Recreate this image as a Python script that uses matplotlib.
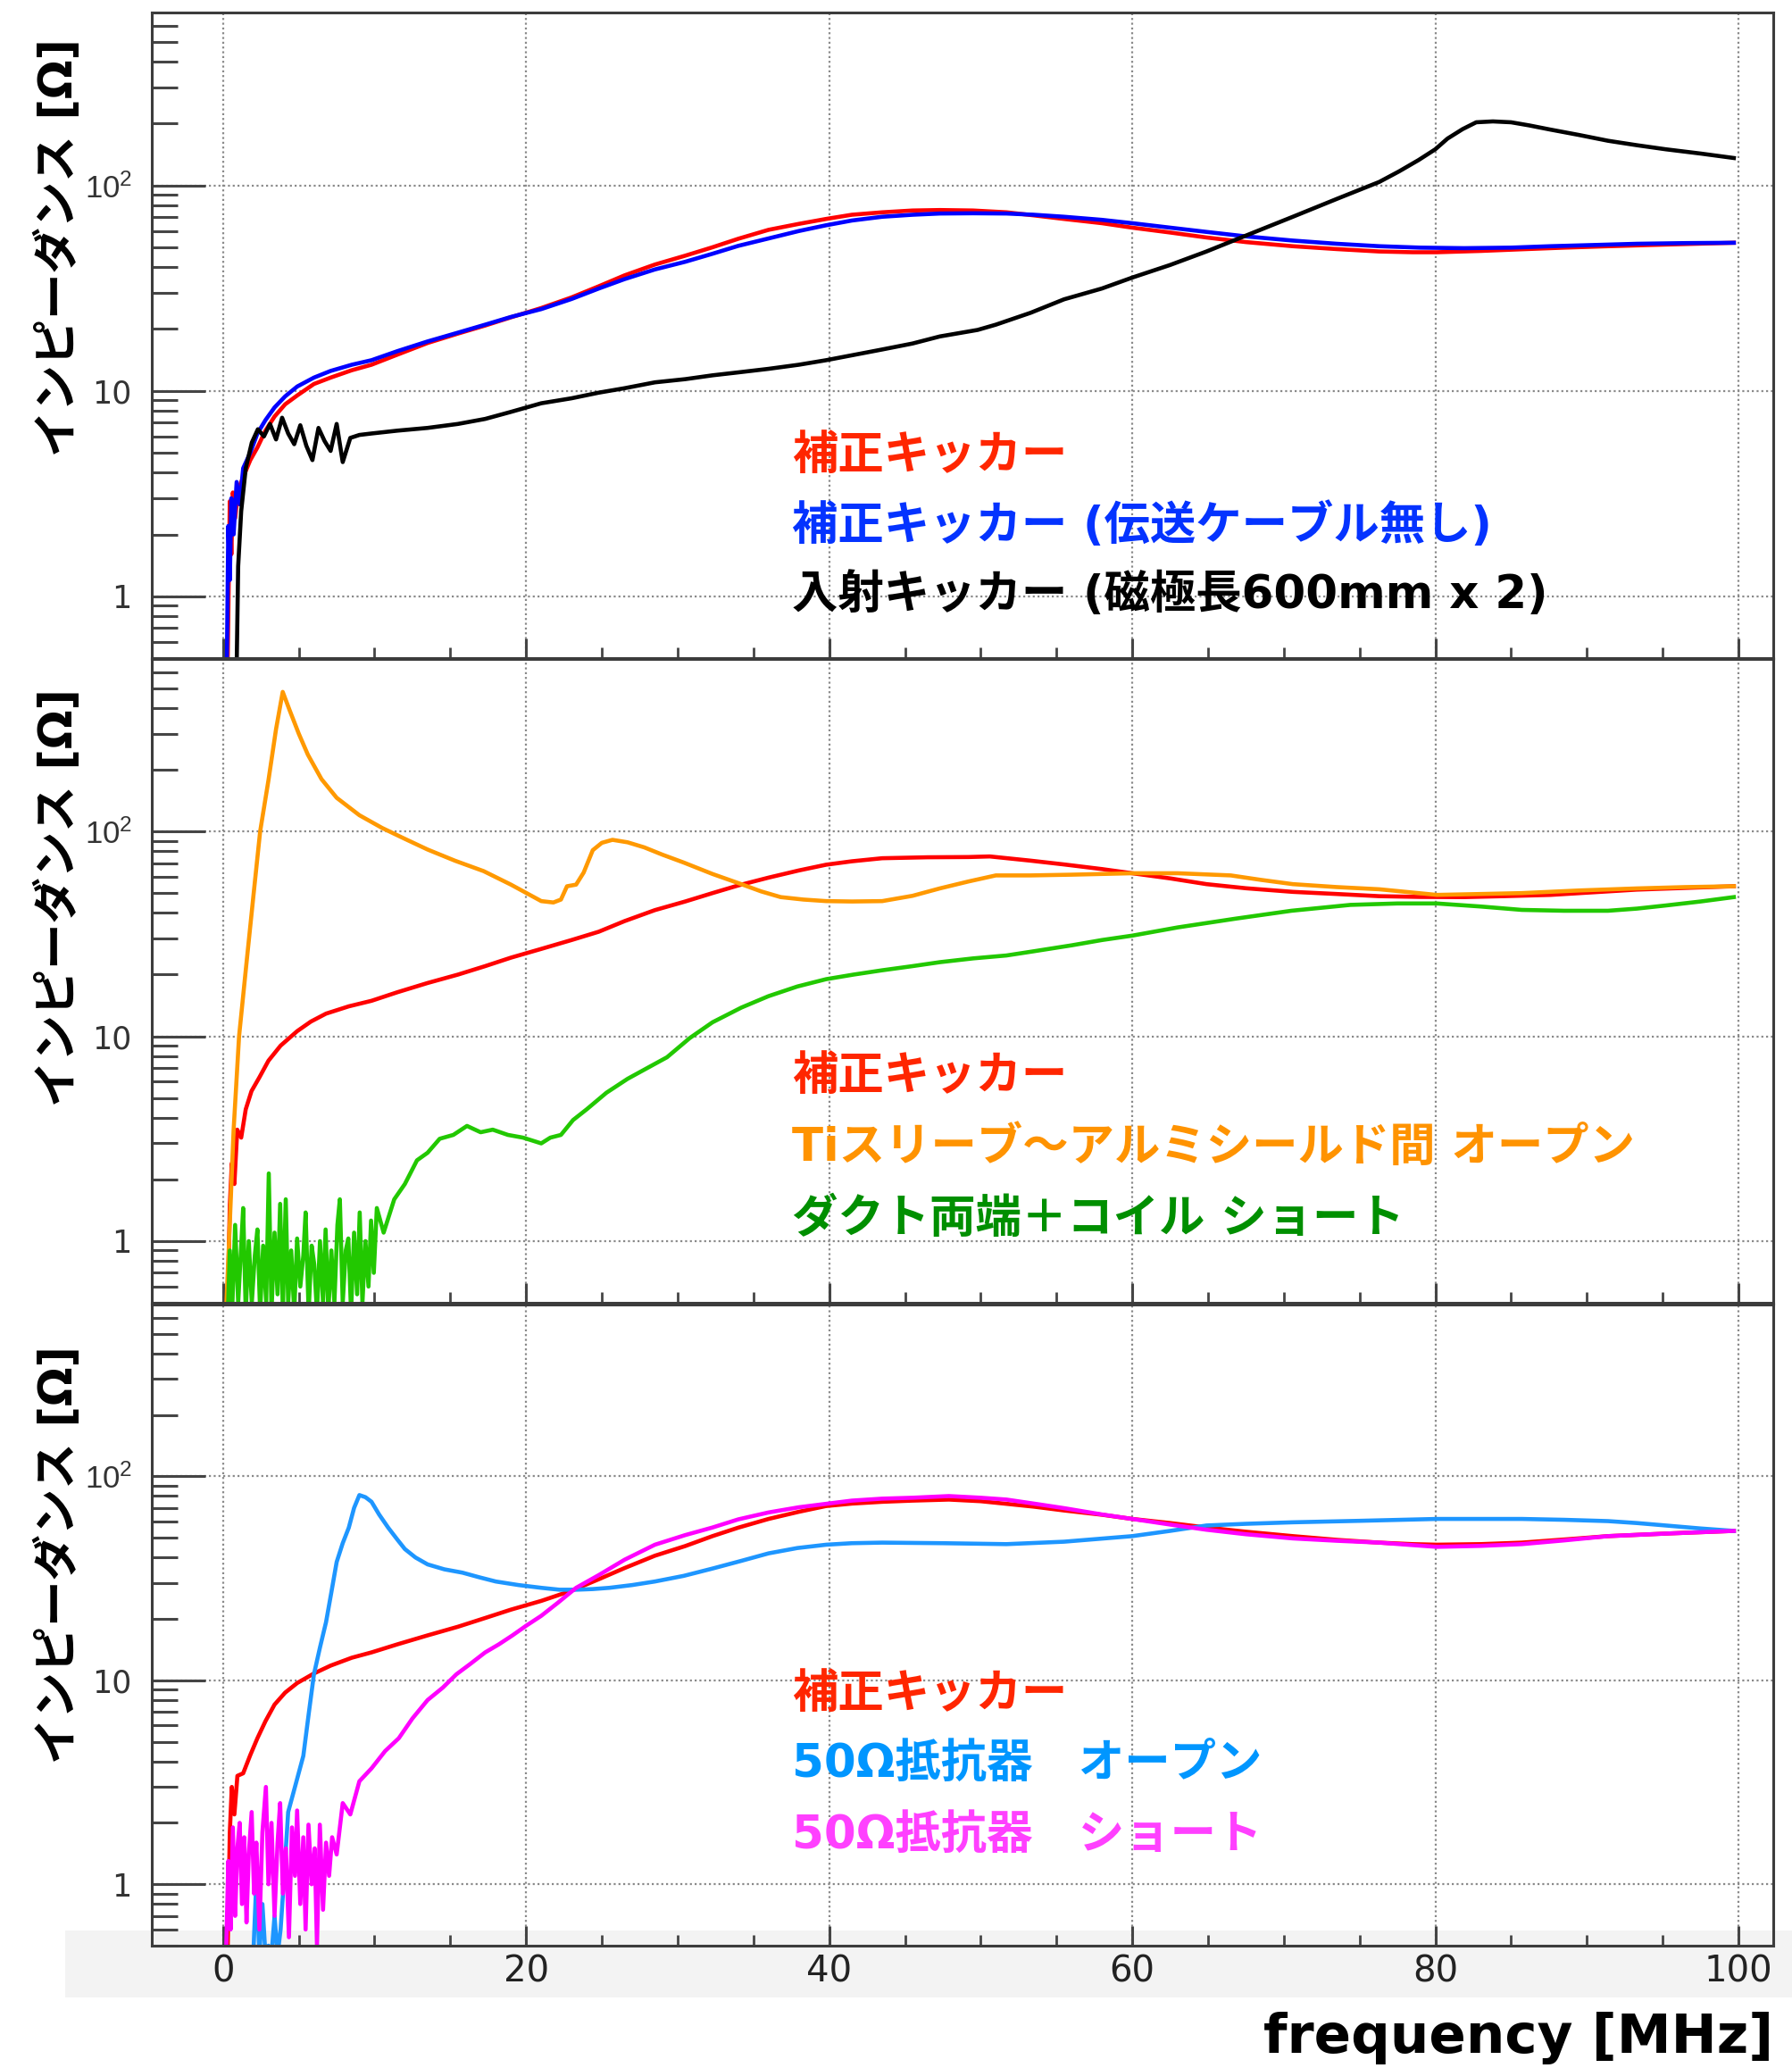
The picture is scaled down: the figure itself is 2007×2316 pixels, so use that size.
import matplotlib
matplotlib.use("Agg")
import matplotlib.pyplot as plt
from matplotlib.patches import Rectangle
from matplotlib.ticker import FixedLocator, MultipleLocator, NullFormatter

plt.rcParams['font.family'] = ['DejaVu Sans', 'Noto Sans CJK JP']
plt.rcParams['mathtext.fontset'] = 'custom'
plt.rcParams['mathtext.rm'] = 'Liberation Sans'
plt.rcParams['mathtext.it'] = 'Liberation Sans'

# ---- panel 1: kicker comparison ----
red1_f = [0.3, 0.45, 0.55, 0.65, 0.8, 1.0, 1.33, 1.8, 2.27, 2.8,
          3.4, 4.1, 4.9, 6.0, 7.1, 8.5, 9.8, 11.5, 13.5, 15.5,
          17.3, 19.0, 21.0, 23.0, 24.8, 26.5, 28.5, 30.5, 32.3, 34.0,
          36.0, 38.0, 39.8, 41.5, 43.5, 45.5, 47.3, 49.5, 51.7, 53.5,
          55.5, 58.0, 60.0, 62.5, 64.9, 67.5, 70.6, 73.5, 76.3, 78.5,
          80.1, 83.0, 85.7, 88.5, 91.4, 95.0, 99.7]
red1_z = [0.45, 2.9, 1.6, 3.2, 2.4, 3.3, 3.8, 4.6, 5.3, 6.4,
          7.5, 8.6, 9.5, 10.8, 11.6, 12.6, 13.4, 15.0, 17.1, 19.0,
          20.8, 22.8, 25.3, 28.5, 32.3, 36.5, 41.2, 45.5, 50.0, 55.0,
          60.8, 65.0, 68.7, 72.0, 74.0, 75.5, 75.9, 75.5, 74.0, 71.5,
          68.7, 65.5, 62.3, 59.0, 55.8, 53.0, 50.6, 49.0, 47.7, 47.3,
          47.3, 48.0, 48.9, 49.8, 50.6, 51.5, 52.6]

blue1_f = [0.25, 0.35, 0.45, 0.55, 0.7, 0.9, 1.1, 1.33, 1.8, 2.27,
           2.8, 3.4, 4.1, 4.9, 6.0, 7.1, 8.5, 9.8, 11.5, 13.5,
           15.5, 17.3, 19.0, 21.0, 23.0, 24.8, 26.5, 28.5, 30.5, 32.3,
           34.0, 36.0, 38.0, 39.8, 41.5, 43.5, 45.5, 47.3, 49.5, 51.7,
           53.5, 55.5, 58.0, 60.0, 62.5, 64.9, 67.5, 70.6, 73.5, 76.3,
           79.0, 81.9, 85.0, 87.6, 90.5, 93.3, 96.5, 99.7]
blue1_z = [0.45, 2.2, 1.2, 3.0, 2.0, 3.6, 2.8, 4.2, 5.0, 6.2,
           7.2, 8.3, 9.4, 10.5, 11.6, 12.5, 13.4, 14.1, 15.6, 17.4,
           19.2, 21.0, 22.9, 25.0, 28.0, 31.5, 35.0, 39.0, 42.5, 46.5,
           50.8, 55.2, 60.0, 64.0, 67.5, 70.4, 72.0, 73.0, 73.2, 73.0,
           72.0, 70.4, 68.0, 65.5, 62.3, 59.4, 56.5, 53.9, 52.0, 50.6,
           49.8, 49.5, 49.8, 50.6, 51.3, 52.0, 52.4, 52.6]

black1_f = [0.9, 1.0, 1.2, 1.5, 1.9, 2.3, 2.7, 3.1, 3.5, 3.9,
            4.3, 4.7, 5.1, 5.5, 5.9, 6.3, 6.7, 7.1, 7.5, 7.9,
            8.4, 9.0, 9.8, 11.5, 13.5, 15.5, 17.3, 19.0, 21.0, 23.0,
            24.8, 26.5, 28.5, 30.5, 32.3, 34.0, 36.0, 38.0, 39.8, 41.5,
            43.5, 45.5, 47.3, 49.8, 51.0, 53.3, 55.5, 58.0, 60.0, 62.5,
            64.9, 67.5, 70.6, 73.5, 76.3, 77.6, 78.9, 80.0, 80.8, 81.8,
            82.7, 83.8, 85.0, 86.2, 87.6, 89.5, 91.4, 93.3, 95.2, 97.5,
            99.7]
black1_z = [0.45, 1.4, 2.6, 4.2, 5.6, 6.5, 6.0, 6.9, 5.8, 7.4,
            6.2, 5.5, 6.8, 5.4, 4.6, 6.6, 5.7, 5.1, 6.9, 4.5,
            5.9, 6.1, 6.2, 6.4, 6.6, 6.9, 7.3, 7.9, 8.7, 9.2,
            9.8, 10.3, 11.0, 11.4, 11.9, 12.3, 12.8, 13.4, 14.1, 14.9,
            15.9, 17.0, 18.4, 19.8, 21.0, 24.0, 27.9, 31.5, 35.6, 41.0,
            47.7, 57.0, 70.4, 86.0, 104.0, 117.0, 133.0, 150.0, 169.0, 188.0,
            203.0, 205.0, 203.0, 196.0, 187.0, 176.0, 165.0, 157.0, 150.0, 143.0,
            136.0]

# ---- panel 2: Ti sleeve / duct short ----
red2_f = [0.3, 0.45, 0.58, 0.75, 0.94, 1.2, 1.5, 1.88, 2.4, 3.0,
          3.8, 4.9, 5.8, 6.8, 8.3, 9.8, 11.5, 13.5, 15.5, 17.3,
          19.0, 21.0, 23.0, 24.8, 26.5, 28.5, 30.5, 32.3, 34.0, 36.0,
          38.0, 39.8, 41.5, 43.5, 46.5, 49.2, 50.6, 53.3, 55.5, 58.0,
          60.0, 62.5, 64.9, 67.5, 70.6, 73.5, 76.3, 79.0, 81.9, 84.5,
          87.6, 90.5, 93.3, 96.5, 99.7]
red2_z = [0.45, 1.5, 2.4, 1.9, 3.5, 3.2, 4.4, 5.4, 6.3, 7.6,
          9.0, 10.6, 11.8, 12.9, 14.0, 14.9, 16.4, 18.2, 20.0, 22.0,
          24.2, 26.7, 29.5, 32.4, 36.5, 41.3, 45.5, 50.0, 54.5, 59.5,
          64.5, 68.8, 71.5, 74.0, 74.8, 75.0, 75.5, 72.0, 69.0, 65.5,
          62.5, 59.0, 55.3, 52.8, 50.7, 49.5, 48.3, 47.9, 47.8, 48.3,
          49.0, 50.5, 52.0, 53.0, 54.0]

orange2_f = [0.2, 0.4, 0.7, 1.06, 1.5, 2.0, 2.45, 3.0, 3.5, 3.94,
             4.4, 5.0, 5.6, 6.5, 7.5, 9.0, 10.5, 12.0, 13.5, 15.3,
             17.2, 19.0, 21.0, 21.8, 22.3, 22.7, 23.3, 23.8, 24.4, 25.0,
             25.7, 26.7, 27.8, 29.0, 30.4, 32.3, 34.2, 35.5, 36.8, 38.3,
             39.8, 41.5, 43.5, 45.5, 47.3, 49.2, 51.0, 53.3, 56.0, 60.0,
             63.0, 66.5, 68.5, 70.6, 73.5, 76.3, 80.1, 83.0, 85.7, 89.5,
             93.3, 96.5, 99.7]
orange2_z = [0.45, 1.0, 3.5, 10.0, 21.0, 48.0, 100.0, 178.0, 316.0, 480.0,
             390.0, 300.0, 237.0, 180.0, 146.0, 120.0, 104.0, 92.0, 81.6, 72.0,
             64.0, 55.0, 45.7, 45.0, 46.5, 54.0, 55.0, 63.0, 81.0, 88.0,
             91.0, 88.5, 83.6, 77.0, 70.5, 62.0, 55.3, 51.0, 47.8, 46.5,
             45.7, 45.5, 45.7, 48.5, 52.7, 57.0, 61.0, 61.0, 61.5, 62.5,
             62.5, 61.0, 58.0, 55.3, 53.5, 52.2, 49.0, 49.5, 50.0, 51.5,
             52.7, 53.5, 54.0]

green2_f = [0.3, 0.45, 0.6, 0.8, 1.0, 1.2, 1.33, 1.5, 1.7, 1.9,
            2.1, 2.27, 2.45, 2.65, 2.85, 3.02, 3.2, 3.4, 3.6, 3.77,
            3.95, 4.14, 4.3, 4.5, 4.7, 4.89, 5.1, 5.3, 5.45, 5.65,
            5.85, 6.02, 6.2, 6.4, 6.6, 6.77, 6.95, 7.15, 7.35, 7.55,
            7.71, 7.9, 8.1, 8.27, 8.45, 8.65, 8.85, 9.02, 9.2, 9.4,
            9.6, 9.77, 9.95, 10.15, 10.6, 11.3, 12.0, 12.8, 13.5, 14.3,
            15.2, 16.1, 17.0, 17.8, 18.8, 19.8, 21.0, 21.6, 22.3, 23.1,
            24.0, 25.3, 26.7, 28.0, 29.3, 30.8, 32.3, 34.2, 36.0, 37.9,
            39.8, 41.6, 43.5, 45.5, 47.3, 49.5, 51.7, 53.5, 56.0, 58.0,
            60.0, 63.0, 66.8, 70.5, 74.4, 77.5, 80.1, 83.0, 85.7, 88.5,
            91.4, 93.3, 95.2, 97.5, 99.7]
green2_z = [0.4, 0.9, 0.45, 1.2, 0.5, 0.95, 1.45, 0.45, 1.0, 0.5,
            0.85, 1.14, 0.45, 0.95, 0.5, 2.14, 0.45, 1.1, 0.55, 1.52,
            0.45, 1.6, 0.5, 0.9, 0.45, 1.03, 0.6, 0.85, 1.38, 0.45,
            0.95, 0.77, 0.45, 1.0, 0.5, 1.14, 0.45, 0.9, 0.5, 1.2,
            1.6, 0.5, 0.9, 1.03, 0.45, 1.1, 0.55, 1.38, 0.5, 1.0,
            0.6, 1.26, 0.7, 1.45, 1.1, 1.6, 1.9, 2.48, 2.7, 3.16,
            3.3, 3.65, 3.4, 3.5, 3.3, 3.2, 3.0, 3.2, 3.3, 3.9,
            4.4, 5.3, 6.2, 7.0, 7.9, 9.8, 11.7, 13.8, 15.7, 17.5,
            19.0, 20.0, 21.0, 22.0, 23.0, 24.0, 24.8, 26.0, 27.8, 29.5,
            31.0, 34.0, 37.5, 41.0, 43.8, 44.5, 44.5, 43.0, 41.4, 41.0,
            41.0, 42.0, 43.5, 45.5, 47.8]

# ---- panel 3: 50 ohm resistor open / short ----
red3_f = [0.3, 0.45, 0.58, 0.75, 0.95, 1.33, 1.8, 2.27, 2.8, 3.4,
          4.1, 4.9, 6.0, 7.1, 8.5, 9.8, 11.5, 13.5, 15.5, 17.3,
          19.0, 21.0, 23.0, 24.8, 26.5, 28.5, 30.5, 32.3, 34.0, 36.0,
          38.0, 39.8, 41.5, 43.5, 45.5, 47.9, 50.0, 51.7, 53.5, 55.5,
          58.0, 60.0, 62.5, 64.9, 67.5, 70.6, 73.5, 76.3, 78.5, 80.1,
          83.0, 85.7, 88.5, 91.4, 95.5, 99.7]
red3_z = [0.45, 1.8, 3.0, 2.2, 3.4, 3.5, 4.3, 5.2, 6.3, 7.6,
          8.7, 9.7, 10.8, 11.8, 12.9, 13.7, 15.0, 16.6, 18.3, 20.2,
          22.2, 24.5, 27.5, 31.3, 35.5, 40.8, 45.5, 50.9, 56.0, 61.8,
          67.0, 71.5, 73.5, 75.0, 76.0, 76.9, 75.5, 73.3, 71.0, 68.0,
          64.8, 61.8, 59.0, 56.1, 53.5, 50.9, 48.8, 47.3, 46.5, 46.2,
          46.5, 47.3, 49.0, 50.9, 52.5, 54.0]

open3_f = [2.0, 2.2, 2.4, 2.6, 2.8, 3.0, 3.2, 3.4, 3.6, 3.8,
           4.0, 4.3, 4.8, 5.3, 5.65, 6.0, 6.4, 6.8, 7.15, 7.5,
           7.9, 8.3, 8.65, 9.0, 9.4, 9.8, 10.3, 10.9, 11.5, 12.0,
           12.7, 13.5, 14.6, 15.8, 16.9, 18.0, 19.5, 21.0, 22.2, 23.3,
           24.4, 25.5, 27.0, 28.5, 30.4, 32.3, 34.2, 36.0, 37.9, 39.8,
           41.5, 43.5, 47.5, 51.7, 55.5, 60.0, 62.5, 64.9, 67.5, 70.6,
           75.0, 80.1, 85.7, 88.5, 91.4, 93.3, 95.2, 97.5, 99.7]
open3_z = [0.45, 1.05, 0.45, 0.8, 0.45, 0.5, 0.45, 0.7, 0.45, 0.6,
           1.0, 2.26, 3.1, 4.26, 6.8, 10.7, 14.5, 19.3, 27.0, 38.0,
           47.0, 56.0, 70.0, 80.9, 79.0, 75.0, 65.0, 56.0, 49.0, 44.0,
           40.0, 37.0, 35.0, 33.7, 32.0, 30.5, 29.3, 28.4, 27.8, 27.8,
           28.0, 28.4, 29.3, 30.5, 32.5, 35.3, 38.5, 41.9, 44.5, 46.2,
           47.0, 47.3, 47.0, 46.5, 47.8, 50.9, 54.0, 57.4, 58.5, 59.5,
           60.5, 61.8, 61.8, 61.2, 60.3, 59.0, 57.4, 55.5, 54.0]

short3_f = [0.2, 0.35, 0.5, 0.65, 0.8, 0.95, 1.1, 1.25, 1.4, 1.55,
            1.7, 1.89, 2.05, 2.2, 2.4, 2.6, 2.83, 3.0, 3.2, 3.4,
            3.6, 3.77, 3.95, 4.15, 4.35, 4.55, 4.75, 4.89, 5.1, 5.3,
            5.45, 5.64, 5.85, 6.05, 6.2, 6.39, 6.6, 6.8, 7.0, 7.2,
            7.5, 7.9, 8.4, 9.0, 9.8, 10.7, 11.6, 12.5, 13.5, 14.5,
            15.4, 16.3, 17.3, 18.2, 19.1, 20.0, 21.0, 22.1, 23.3, 24.8,
            26.5, 28.5, 30.5, 32.3, 34.0, 36.0, 38.0, 39.8, 41.5, 43.5,
            45.5, 47.9, 50.0, 51.7, 53.5, 55.5, 58.0, 60.0, 62.5, 64.9,
            67.5, 70.6, 73.5, 76.3, 78.5, 80.1, 83.0, 85.7, 88.5, 91.4,
            95.5, 99.7]
short3_z = [0.45, 1.3, 0.6, 1.9, 0.7, 1.5, 2.0, 0.8, 1.7, 0.65,
            1.4, 2.26, 0.9, 1.6, 0.6, 1.8, 3.0, 1.0, 2.0, 0.7,
            1.6, 2.5, 0.9, 1.5, 0.55, 1.9, 1.1, 2.3, 0.8, 1.7,
            0.6, 1.96, 1.0, 1.5, 0.5, 1.96, 0.75, 1.6, 1.1, 1.7,
            1.4, 2.5, 2.2, 3.2, 3.7, 4.5, 5.2, 6.5, 8.0, 9.2,
            10.7, 12.0, 13.7, 15.0, 16.6, 18.5, 20.7, 24.0, 28.4, 32.8,
            39.0, 46.2, 51.5, 56.1, 61.5, 66.5, 70.5, 73.3, 76.0, 77.7,
            78.5, 80.0, 78.5, 76.9, 73.5, 69.8, 65.0, 61.8, 58.0, 54.7,
            52.0, 49.6, 48.3, 47.3, 46.0, 45.1, 45.6, 46.5, 48.5, 50.9,
            52.5, 54.0]

panels = [
    dict(curves=[(red1_f, red1_z, '#ff0000'), (blue1_f, blue1_z, '#0000ff'),
                 (black1_f, black1_z, '#000000')],
         labels=['補正キッカー', '補正キッカー (伝送ケーブル無し)', '入射キッカー (磁極長600mm x 2)'],
         colors=['#ff2600', '#0433ff', '#000000'],
         rows=[511, 589, 667], top=14, bottom=737, ytitle=43),
    dict(curves=[(red2_f, red2_z, '#ff0000'), (orange2_f, orange2_z, '#ff9900'),
                 (green2_f, green2_z, '#22c800')],
         labels=['補正キッカー', 'Tiスリーブ〜アルミシールド間 オープン', 'ダクト両端＋コイル ショート'],
         colors=['#ff2600', '#ff9300', '#008f00'],
         rows=[1206, 1286, 1366], top=738, bottom=1459, ytitle=771),
    dict(curves=[(red3_f, red3_z, '#ff0000'), (open3_f, open3_z, '#1e96ff'),
                 (short3_f, short3_z, '#ff00ff')],
         labels=['補正キッカー', '50Ω抵抗器　オープン', '50Ω抵抗器　ショート'],
         colors=['#ff2600', '#0096ff', '#ff40ff'],
         rows=[1898, 1976, 2056], top=1461, bottom=2179, ytitle=1507),
]

W, H = 2007, 2316
AX_L, AX_R = 170, 1986
fig = plt.figure(figsize=(W / 100, H / 100), dpi=100)

# light band behind the bottom tick labels
fig.patches.append(Rectangle((73 / W, 1 - 2237 / H), (W - 73) / W, (2237 - 2162) / H,
                             transform=fig.transFigure, facecolor='#f3f3f3',
                             edgecolor='none', zorder=-1))

major_y = [1, 10, 100]
minor_y = [m * 10 ** e for e in (-1, 0, 1, 2) for m in range(2, 10)]
frame = '#3c3c3c'

for i, p in enumerate(panels):
    ax = fig.add_axes([AX_L / W, 1 - p['bottom'] / H, (AX_R - AX_L) / W,
                       (p['bottom'] - p['top']) / H])
    ax.set_facecolor('none')
    for f, z, c in p['curves']:
        ax.plot(f, z, color=c, lw=3.3)
    ax.set_yscale('log')
    ax.set_xlim(-4.7, 102.3)
    ax.set_ylim(0.5, 695)
    ax.yaxis.set_major_locator(FixedLocator(major_y))
    ax.yaxis.set_minor_locator(FixedLocator(minor_y))
    ax.yaxis.set_minor_formatter(NullFormatter())
    ax.set_yticklabels(['1', '10', r'$10^{2}$'])
    ax.xaxis.set_major_locator(MultipleLocator(20))
    ax.xaxis.set_minor_locator(MultipleLocator(5))
    ax.grid(True, which='major', linestyle=(0, (1, 1.4)), color='#8a8a8a', lw=1.6)
    ax.tick_params(axis='y', which='major', direction='in', length=43, width=2.2,
                   color='#454545', right=False, labelsize=25, labelcolor='#333333',
                   pad=16)
    ax.tick_params(axis='y', which='minor', direction='in', length=21, width=2.2,
                   color='#454545', right=False)
    ax.tick_params(axis='x', which='major', direction='in', length=16, width=2.2,
                   color='#454545', top=False, labelsize=29, labelcolor='#222222',
                   pad=7, labelbottom=(i == 2))
    ax.tick_params(axis='x', which='minor', direction='in', length=8.5, width=2.0,
                   color='#454545', top=False)
    for s in ax.spines.values():
        s.set_color(frame)
        s.set_linewidth(2.2)
    for txt, c, y in zip(p['labels'], p['colors'], p['rows']):
        fig.text(887 / W, 1 - y / H, txt, color=c, fontsize=37, fontweight='bold',
                 ha='left', va='center')
    fig.text(66 / W, 1 - p['ytitle'] / H, 'インピーダンス [Ω]', rotation=90,
             fontsize=37, fontweight='bold', ha='center', va='top')

fig.text(AX_R / W, 1 - 2282 / H, 'frequency [MHz]', fontsize=44, fontweight='bold',
         family='DejaVu Sans', ha='right', va='center')

fig.savefig('out.png', dpi=100, facecolor='white')
